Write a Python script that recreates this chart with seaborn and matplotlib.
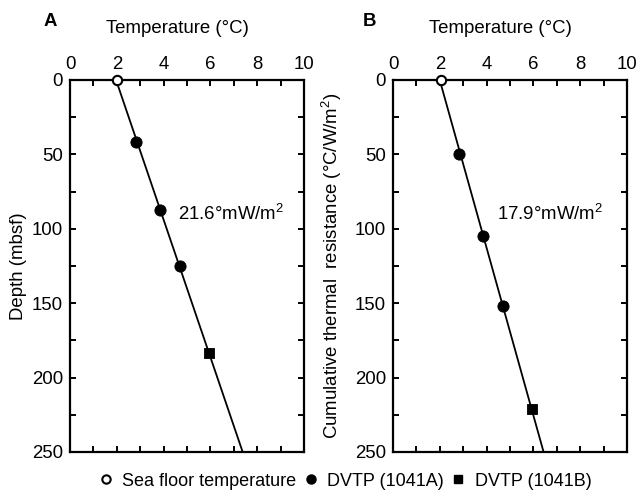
import numpy as np
import pandas as pd
import matplotlib
matplotlib.use("Agg")
import matplotlib.pyplot as plt
from matplotlib.lines import Line2D
from matplotlib.ticker import MultipleLocator
import seaborn as sns

# ---- data ----
# Panel A: temperature vs depth (mbsf)
a_seafloor_T = [2.0]
a_seafloor_z = [0.0]
a_1041A_T = [2.82, 3.86, 4.69]
a_1041A_z = [41.5, 87.5, 125.0]
a_1041B_T = [5.94]
a_1041B_z = [183.5]
a_label = "21.6°mW/m$^2$"

# Panel B: temperature vs cumulative thermal resistance
b_seafloor_T = [2.05]
b_seafloor_r = [0.0]
b_1041A_T = [2.82, 3.86, 4.69]
b_1041A_r = [50.0, 105.0, 152.0]
b_1041B_T = [5.94]
b_1041B_r = [221.0]
b_label = "17.9°mW/m$^2$"

FS = 13.4

sns.set_style("ticks")
plt.rcParams["font.family"] = ["Liberation Sans", "DejaVu Sans"]
plt.rcParams["mathtext.fontset"] = "custom"
plt.rcParams["mathtext.rm"] = "Liberation Sans"
plt.rcParams["mathtext.it"] = "Liberation Sans"
plt.rcParams["mathtext.default"] = "regular"
plt.rcParams["text.color"] = "black"
plt.rcParams["axes.labelcolor"] = "black"
plt.rcParams["xtick.color"] = "black"
plt.rcParams["ytick.color"] = "black"

fig = plt.figure(figsize=(6.38, 4.97), dpi=100)
W, H = 638, 497
axA = fig.add_axes([70 / W, 1 - 452 / H, 234 / W, 372 / H])
axB = fig.add_axes([393 / W, 1 - 452 / H, 234 / W, 372 / H])


def panel(ax, sfT, sfz, aT, az, bT, bz, label, ylab, letter, ann_xy,
          ylab_x, letter_x):
    allT = np.array(sfT + aT + bT)
    allz = np.array(sfz + az + bz)
    slope, icpt = np.polyfit(allz, allT, 1)
    zz = np.array([0.0, 250.0])
    fit = pd.DataFrame({"T": icpt + slope * zz, "z": zz})
    sns.lineplot(data=fit, x="T", y="z", ax=ax, color="black", lw=1.3,
                 sort=False, estimator=None, zorder=2)
    sns.scatterplot(x=aT, y=az, ax=ax, marker="o", s=65, color="black",
                    edgecolor="black", zorder=3)
    sns.scatterplot(x=bT, y=bz, ax=ax, marker="s", s=60, color="black",
                    edgecolor="black", zorder=3)
    ax.scatter(sfT, sfz, marker="o", s=45, facecolor="white",
               edgecolor="black", linewidth=1.5, zorder=4, clip_on=False)
    ax.set_xlim(0, 10)
    ax.set_ylim(250, 0)
    ax.xaxis.set_major_locator(MultipleLocator(2))
    ax.xaxis.set_minor_locator(MultipleLocator(1))
    ax.yaxis.set_major_locator(MultipleLocator(50))
    ax.yaxis.set_minor_locator(MultipleLocator(25))
    ax.tick_params(which="both", direction="in", top=True, bottom=True,
                   left=True, right=True, labeltop=True, labelbottom=False,
                   labelsize=FS, width=1.4, length=4, pad=5, colors="black")
    ax.tick_params(which="minor", length=4)
    for s in ax.spines.values():
        s.set_linewidth(1.6)
        s.set_color("black")
    ax.xaxis.set_label_position("top")
    ax.set_xlabel("Temperature (°C)", fontsize=FS, labelpad=16.5,
                  color="black")
    ax.xaxis.label.set_x(0.457)
    ax.set_ylabel(ylab, fontsize=FS, color="black")
    ax.yaxis.set_label_coords(ylab_x, 0.5)
    ax.text(ann_xy[0], ann_xy[1], label, fontsize=FS, va="center",
            ha="left", color="black")
    ax.text(letter_x, 1.157, letter, transform=ax.transAxes, fontsize=FS,
            fontweight="bold", va="center", ha="left", color="black")


panel(axA, a_seafloor_T, a_seafloor_z, a_1041A_T, a_1041A_z, a_1041B_T,
      a_1041B_z, a_label, "Depth (mbsf)", "A", (4.6, 90), -0.183, -0.115)
panel(axB, b_seafloor_T, b_seafloor_r, b_1041A_T, b_1041A_r, b_1041B_T,
      b_1041B_r, b_label, "Cumulative thermal  resistance (°C/W/m$^2$)", "B",
      (4.45, 90), -0.21, -0.128)

handles = [
    Line2D([], [], ls="none", marker="o", markersize=6, markerfacecolor="white",
           markeredgecolor="black", markeredgewidth=1.5),
    Line2D([], [], ls="none", marker="o", markersize=6.5, color="black"),
    Line2D([], [], ls="none", marker="s", markersize=6, color="black"),
]
leg = fig.legend(handles, ["Sea floor temperature", "DVTP (1041A)", "DVTP (1041B)"],
                 loc="center", bbox_to_anchor=(0.541, 1 - 481 / H), ncol=3,
                 frameon=False, fontsize=13, handlelength=0.8,
                 handletextpad=0.5, columnspacing=0.4, borderpad=0)
for t in leg.get_texts():
    t.set_color("black")

fig.savefig("out.png", dpi=100)
